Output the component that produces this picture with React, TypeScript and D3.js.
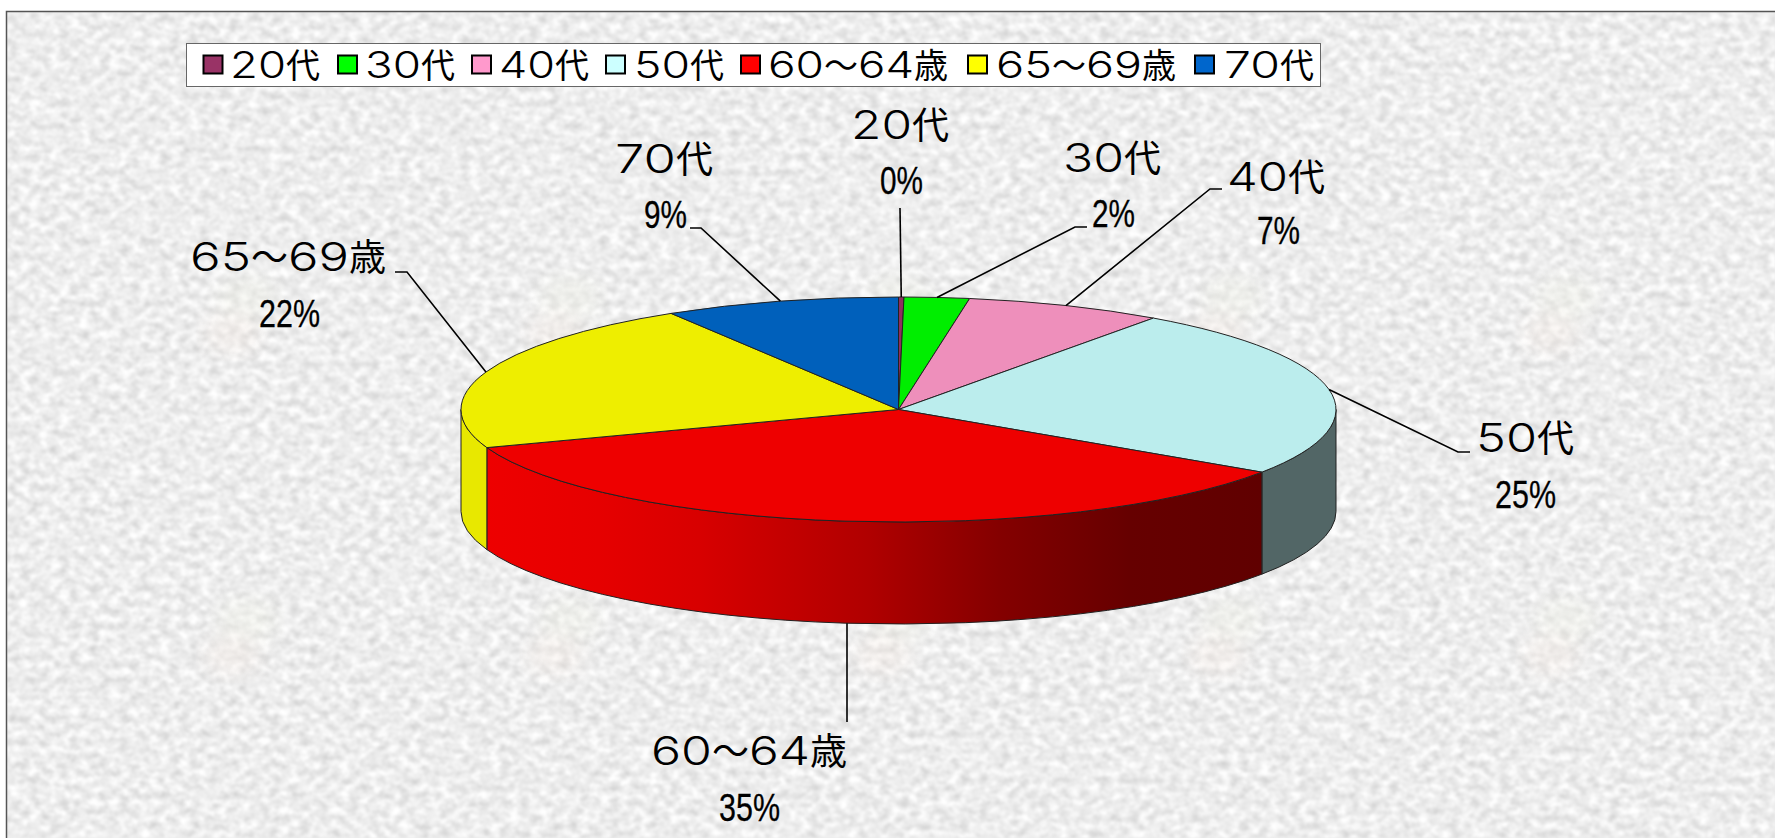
import React from "react";
import * as d3 from "d3";

// ---- data ----
const categories = ["20代", "30代", "40代", "50代", "60～64歳", "65～69歳", "70代"];
const shares = [0.2, 2.4, 7.3, 24.5, 35.1, 21.8, 8.7];
const legendColors = ["#993366", "#00ff00", "#ff99cc", "#ccffff", "#ff0000", "#ffff00", "#0066cc"];
const topColors = ["#8e2f5f", "#00ee00", "#ee8fbb", "#bbeded", "#ee0000", "#eeee00", "#0060bb"];

// ---- layout ----
const W = 1775, H = 838;
const cx = 898.5, cy = 409.5, rx = 437.5, ry = 112.5, depth = 102;
const U = 1000;
const legendSwatchX = [203.5, 338, 472, 606, 741, 968, 1195];
const legendTextX = [230, 365, 499, 634, 768, 996, 1224];
const nameX = [851, 1063, 1227, 1476, 651, 190, 615];
const nameY = [139, 172, 191, 452, 765, 271, 173];
const pctX = [880, 1092, 1257, 1495, 719, 259, 644];
const pctY = [194, 227, 244, 508, 821, 327, 228];
const elbows: [number, number][][] = [
  [[900, 208]],
  [[1087, 227], [1075, 227]],
  [[1222, 189], [1210, 189]],
  [[1470, 452], [1458, 452]],
  [[847, 722]],
  [[395, 272], [407, 272]],
  [[690, 228], [701, 228]],
];
const tileX = [232, 555, 883, 1217, 1551];
const tileY = [323, 645];

const redStops: [number, string][] = [
  [489, "#ee0000"], [600, "#e60000"], [700, "#d80000"], [870, "#b00000"],
  [1000, "#840000"], [1130, "#660000"], [1262, "#600000"],
];

const pie = d3.pie<number>().sort(null).value((d) => d);
const arcs = pie(shares);
const arcGen = d3.arc<d3.PieArcDatum<number>>().innerRadius(0).outerRadius(U);
const redScale = d3.scaleLinear().domain([489, 1262]).range([0, 1]);
const sideColor = ["", "", "", "#526666", "url(#redSide)", "#e8e800", ""];

const dy = (depth / ry) * U;
function sidePath(a0: number, a1: number) {
  const p = d3.path();
  p.arc(0, 0, U, a0 - Math.PI / 2, a1 - Math.PI / 2);
  p.arc(0, dy, U, a1 - Math.PI / 2, a0 - Math.PI / 2, true);
  p.closePath();
  return p.toString();
}

function Stretch({ x, y, text, digitW, digitSize, cjkSize }: any) {
  const runs: string[] = text.match(/\d+|\D+/g);
  return (
    <text x={x} y={y} fill="#000">
      {runs.map((r, i) =>
        /\d/.test(r) ? (
          <tspan key={i} fontFamily="Inter" fontWeight={350} fontSize={digitSize} textLength={r.length * digitW} lengthAdjust="spacingAndGlyphs">{r}</tspan>
        ) : (
          <tspan key={i} fontFamily="'Noto Sans CJK JP'" fontSize={cjkSize}>{r}</tspan>
        )
      )}
    </text>
  );
}

export default function App() {
  const leaders = arcs.map((a, i) => {
    const mid = (a.startAngle + a.endAngle) / 2;
    const pts = elbows[i].map((p) => [...p]);
    if (i === 4) {
      const x = pts[0][0];
      const t = (x - cx) / rx;
      pts.push([x, cy + depth + ry * Math.sqrt(1 - t * t)]);
    } else {
      pts.push([cx + rx * Math.sin(mid), cy - ry * Math.cos(mid)]);
    }
    return d3.line()(pts as [number, number][]) as string;
  });

  const sides = arcs
    .map((a, i) => {
      const lo = Math.max(a.startAngle, Math.PI / 2);
      const hi = Math.min(a.endAngle, (3 * Math.PI) / 2);
      return hi > lo ? { i, d: sidePath(lo, hi) } : null;
    })
    .filter(Boolean) as { i: number; d: string }[];

  const tf = `translate(${cx},${cy}) scale(${rx / U},${ry / U})`;

  return (
    <svg width={W} height={H} viewBox={`0 0 ${W} ${H}`} style={{ position: "absolute", left: 0, top: 0, display: "block" }}>
      <defs>
        <filter id="paper" x="0" y="0" width="100%" height="100%" colorInterpolationFilters="sRGB">
          <feTurbulence type="fractalNoise" baseFrequency="0.1 0.13" numOctaves={3} seed={7} />
          <feColorMatrix type="matrix" values="0.27 0 0 0 0.795  0.27 0 0 0 0.795  0.27 0 0 0 0.795  0 0 0 0 1" />
          <feGaussianBlur stdDeviation="0.8" />
        </filter>
        <filter id="soft"><feGaussianBlur stdDeviation="9" /></filter>
        <linearGradient id="redSide" x1="0" x2="1" y1="0" y2="0">
          {redStops.map(([x, c]) => <stop key={x} offset={redScale(x)} stopColor={c} />)}
        </linearGradient>
      </defs>

      <rect width={W} height={H} fill="#fff" />
      <rect x={6.5} y={11.5} width={W} height={H} fill="#ececec" />
      <rect x={7} y={12} width={W - 7} height={H - 12} filter="url(#paper)" />
      {tileX.flatMap((x) => tileY.map((y) => (
        <g key={`${x}-${y}`} filter="url(#soft)" opacity={0.35}>
          <ellipse cx={x + 15} cy={y - 25} rx={30} ry={22} fill="#f0f2e6" />
          <ellipse cx={x} cy={y + 10} rx={28} ry={20} fill="#f6ebe4" />
        </g>
      )))}
      <path d={`M6.5,${H}V11.5H${W}`} fill="none" stroke="#555" strokeWidth={1.5} />

      <g transform={tf}>
        {sides.map(({ i, d }) => (
          <path key={i} d={d} fill={sideColor[i]} stroke="#222" strokeWidth={1} vectorEffect="non-scaling-stroke" />
        ))}
        {arcs.map((a, i) => (
          <path key={i} d={arcGen(a) as string} fill={topColors[i]} stroke="#222" strokeWidth={1} vectorEffect="non-scaling-stroke" />
        ))}
      </g>

      {leaders.map((d, i) => (
        <path key={i} d={d} fill="none" stroke="#000" strokeWidth={1.6} />
      ))}

      <rect x={186.5} y={43.5} width={1134} height={43} fill="#fff" stroke="#666" strokeWidth={1} />
      {categories.map((c, i) => (
        <g key={c}>
          <rect x={legendSwatchX[i]} y={55.5} width={19} height={18} fill={legendColors[i]} stroke="#000" strokeWidth={2} />
          <Stretch x={legendTextX[i]} y={78} text={c} digitW={28} digitSize={37} cjkSize={34} />
        </g>
      ))}

      {categories.map((c, i) => {
        const label = `${Math.round(shares[i])}%`;
        return (
          <g key={c}>
            <Stretch x={nameX[i]} y={nameY[i]} text={c} digitW={30.5} digitSize={40} cjkSize={37} />
            <text x={pctX[i]} y={pctY[i]} fontFamily="'Liberation Sans'" fontSize={39} fill="#000" stroke="#000" strokeWidth={0.3}
              textLength={(label.length - 1) * 18 + 25} lengthAdjust="spacingAndGlyphs">{label}</text>
          </g>
        );
      })}
    </svg>
  );
}
